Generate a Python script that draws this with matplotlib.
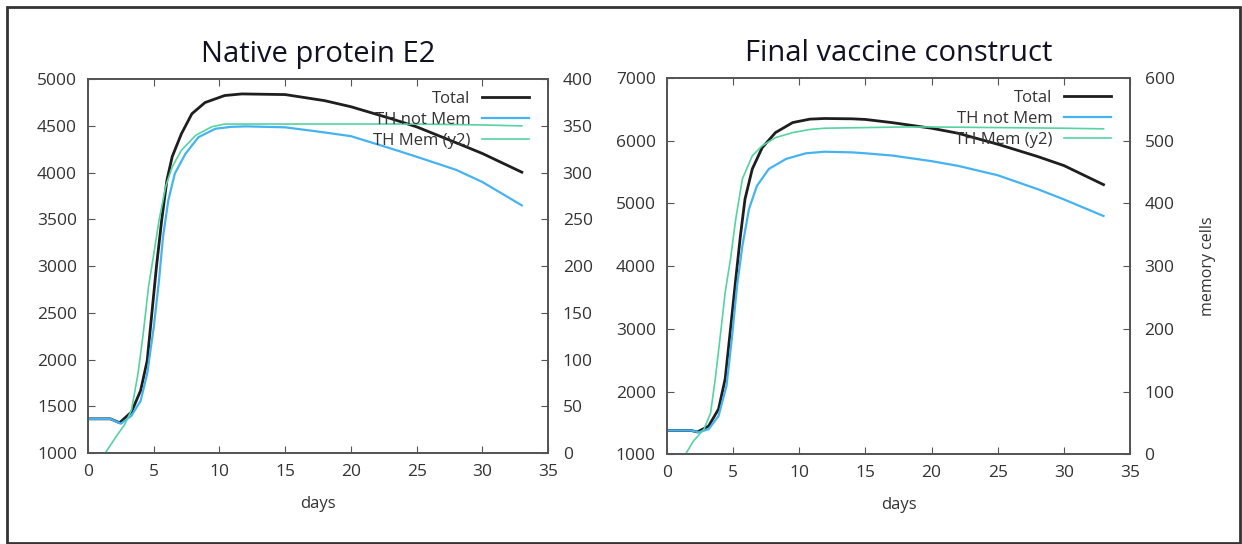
import matplotlib
matplotlib.use("Agg")
import matplotlib.pyplot as plt
from matplotlib.patches import Rectangle

plt.rcParams['font.family'] = ['Open Sans', 'DejaVu Sans']

# ---- data ----
# Native protein E2
e2_t_days = [0, 1.7, 2.4, 3.3, 4.0, 4.5, 4.85, 5.2, 5.6, 6.0, 6.4, 7.1, 7.9, 8.9, 10.4, 11.7,
             15, 18, 20, 23, 25, 28, 30, 33]
e2_total = [1367, 1367, 1325, 1440, 1670, 1990, 2490, 2990, 3490, 3920, 4170, 4415, 4630, 4750,
            4825, 4842, 4835, 4770, 4705, 4580, 4490, 4320, 4205, 4005]
e2_n_days = [0, 1.7, 2.5, 3.3, 4.0, 4.5, 5.0, 5.4, 5.7, 6.1, 6.6, 7.4, 8.4, 9.7, 10.9, 12,
             15, 18, 20, 23, 25, 28, 30, 33]
e2_not_mem = [1367, 1367, 1315, 1400, 1560, 1850, 2350, 2850, 3310, 3700, 3990, 4200, 4380, 4470,
              4490, 4495, 4485, 4430, 4390, 4260, 4170, 4030, 3900, 3650]
e2_m_days = [1.3, 2.1, 2.8, 3.3, 3.8, 4.2, 4.6, 5.0, 5.4, 5.9, 6.4, 7.1, 8.2, 9.4, 10.4, 12,
             15, 20, 25, 30, 33]
e2_mem = [0, 17, 31, 46, 85, 128, 178, 213, 249, 285, 306, 324, 340, 349, 352, 352,
          352, 352, 352, 351, 350]

# Final vaccine construct
vc_t_days = [0, 1.8, 2.3, 3.15, 3.9, 4.4, 4.8, 5.2, 5.55, 5.9, 6.45, 7.2, 8.2, 9.5, 10.8, 11.9,
             14, 15, 17, 20, 22, 25, 28, 30, 33]
vc_total = [1380, 1380, 1355, 1450, 1720, 2200, 2990, 3790, 4480, 5070, 5550, 5890, 6130, 6290,
            6345, 6355, 6350, 6340, 6290, 6200, 6120, 5945, 5750, 5605, 5300]
vc_n_days = [0, 1.8, 2.4, 3.15, 3.9, 4.5, 4.9, 5.3, 5.7, 6.2, 6.8, 7.7, 9.0, 10.5, 11.9,
             14, 15, 17, 20, 22, 25, 28, 30, 33]
vc_not_mem = [1380, 1380, 1350, 1400, 1610, 2090, 2835, 3690, 4320, 4910, 5280, 5550, 5710, 5800,
              5825, 5815, 5800, 5765, 5675, 5600, 5450, 5230, 5065, 4800]
vc_m_days = [1.4, 2.0, 2.8, 3.3, 3.65, 4.0, 4.4, 4.8, 5.2, 5.7, 6.45, 7.2, 8.2, 9.5, 10.8, 11.9,
             15, 18, 20, 25, 30, 33]
vc_mem = [0, 21, 40, 66, 120, 183, 258, 311, 375, 439, 476, 492, 505, 513, 518, 520,
          521, 522, 522, 521, 520, 519]

titles = ["Native protein E2", "Final vaccine construct"]
labels = ["Total", "TH not Mem", "TH Mem (y2)"]

BLACK = "#1e1e1e"
BLUE = "#45b3f0"
GREEN = "#55d3a2"
FRAME = "#555555"
TXT = "#333333"

fig = plt.figure(figsize=(12.42, 5.44), dpi=100)
fig.patches.append(Rectangle((0.006, 0.002), 0.992, 0.985, transform=fig.transFigure,
                             fill=False, edgecolor="#333333", linewidth=2.0))


def panel(rect, title, series, ylim, yticks, y2lim, y2ticks, y2label):
    (td, tot), (nd, nm), (md, mem) = series
    ax = fig.add_axes(rect)
    ax2 = ax.twinx()
    l1, = ax.plot(td, tot, color=BLACK, lw=2.0, solid_joinstyle="round")
    l2, = ax.plot(nd, nm, color=BLUE, lw=1.6, solid_joinstyle="round")
    l3, = ax2.plot(md, mem, color=GREEN, lw=1.2, solid_joinstyle="round")
    ax.set_xlim(0, 35)
    ax.set_ylim(*ylim)
    ax.set_yticks(yticks)
    ax2.set_ylim(*y2lim)
    ax2.set_yticks(y2ticks)
    ax.set_xticks(range(0, 36, 5))
    for a in (ax, ax2):
        for s in a.spines.values():
            s.set_color(FRAME)
            s.set_linewidth(1.3)
    ax.tick_params(axis="x", direction="in", top=True, length=5, color=FRAME,
                   labelsize=12.5, labelcolor=TXT, pad=8)
    ax.tick_params(axis="y", direction="in", length=5, color=FRAME,
                   labelsize=12.5, labelcolor=TXT, pad=8)
    ax2.tick_params(axis="y", direction="in", length=5, color=FRAME,
                    labelsize=12.5, labelcolor=TXT, pad=10.5)
    ax.set_xlabel("days", fontsize=12, color=TXT, labelpad=11)
    if y2label:
        ax2.set_ylabel(y2label, fontsize=11.5, color=TXT, labelpad=18)
    ax.set_title(title, fontsize=21, color="#111122", pad=12)
    ax2.legend([l1, l2, l3], labels, loc="upper right", frameon=False, markerfirst=False,
               fontsize=12, handlelength=2.8, handletextpad=0.7, labelspacing=0.3,
               borderaxespad=0.2, bbox_to_anchor=(0.98, 0.995),
               labelcolor=TXT)


panel([0.0709, 0.167, 0.3704, 0.6875], titles[0],
      [(e2_t_days, e2_total), (e2_n_days, e2_not_mem), (e2_m_days, e2_mem)],
      (1000, 5000), range(1000, 5001, 500), (0, 400), range(0, 401, 50), None)
panel([0.537, 0.165, 0.3728, 0.6915], titles[1],
      [(vc_t_days, vc_total), (vc_n_days, vc_not_mem), (vc_m_days, vc_mem)],
      (1000, 7000), range(1000, 7001, 1000), (0, 600), range(0, 601, 100), "memory cells")

fig.savefig("out.png", dpi=100)
